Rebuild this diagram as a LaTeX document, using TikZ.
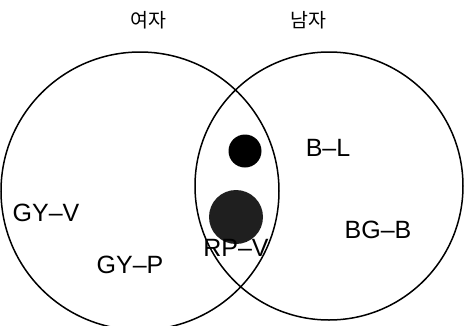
\documentclass[tikz,border=0pt]{standalone}
\usepackage{fontspec}
\setmainfont{Liberation Sans}
\newfontfamily\kofont{Noto Sans CJK KR}
\begin{document}
\begin{tikzpicture}[x=1pt,y=-1pt,
  setc/.style={draw=black,line width=1.5pt},
  lab/.style={font=\fontsize{25}{25}\selectfont,inner sep=0pt},
  kolab/.style={font=\kofont\fontsize{19.5}{19.5}\selectfont,inner sep=0pt},
  dotc/.style={fill=black,draw=none}]
\useasboundingbox (0,0) rectangle (464,325);
\fill[white] (0,0) rectangle (464,325);
\begin{scope}
\clip (0,0) rectangle (464,325);
\draw[setc] (140,191) circle (139);
\draw[setc] (329,186) circle (134);
\end{scope}
\fill[dotc] (245,151) circle (16.5);
\fill[black!88] (236,217) circle (27);
\node[kolab] (f) at (148,20) {여자};
\node[kolab] (m) at (308,20) {남자};
\node[lab] (gyv) at (46,213) {GY–V};
\node[lab] (gyp) at (130,265) {GY–P};
\node[lab] (rpv) at (236,248) {RP–V};
\node[lab] (bl) at (328,148) {B–L};
\node[lab] (bgb) at (378,230) {BG–B};
\end{tikzpicture}
\end{document}
